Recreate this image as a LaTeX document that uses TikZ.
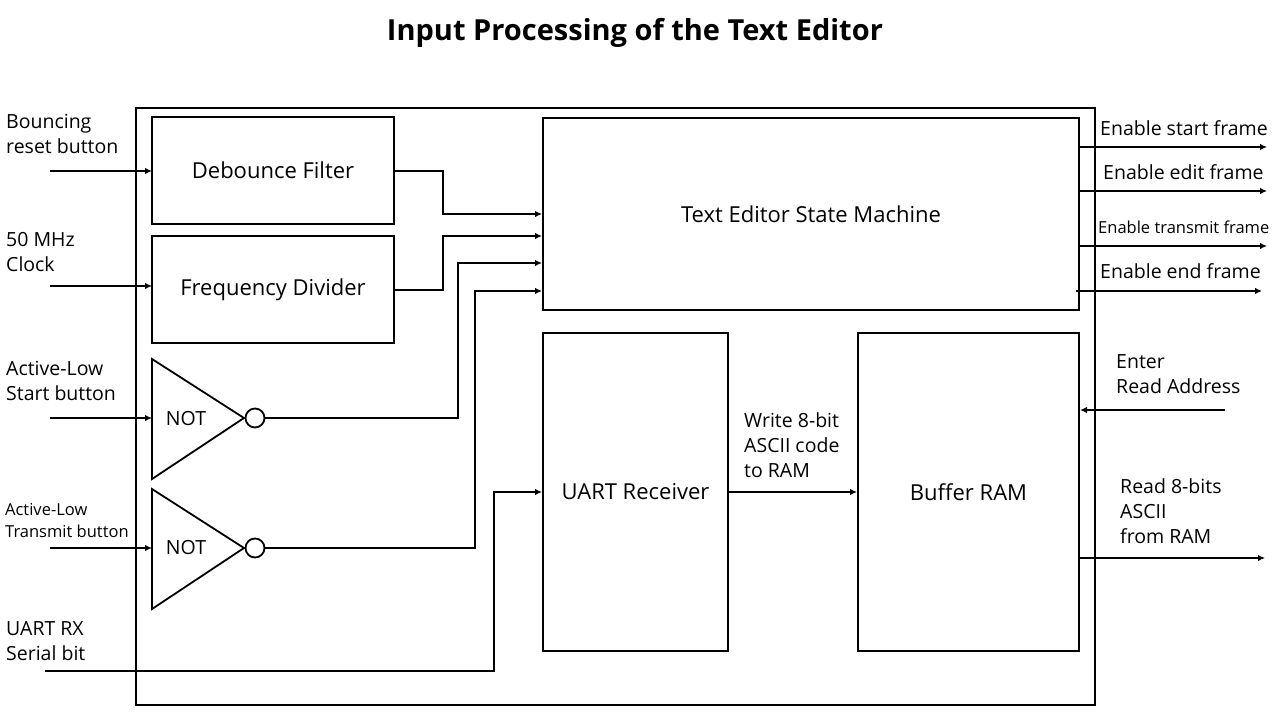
\documentclass[tikz,border=0pt]{standalone}
\usepackage{fontspec}
\setmainfont{Open Sans}
\usetikzlibrary{arrows.meta}
\begin{document}
\begin{tikzpicture}[x=1pt,y=-1pt,
 box/.style={draw,line width=2pt},
 wire/.style={line width=2.6pt},
 arr/.style={wire,-{Latex[length=7pt,width=6.5pt]}},
 lab/.style={font=\fontsize{19.5}{25}\selectfont,align=left,anchor=north west,inner sep=0pt},
 slab/.style={font=\fontsize{16.5}{22}\selectfont,align=left,anchor=north west,inner sep=0pt},
 btxt/.style={font=\fontsize{22}{26}\selectfont}]
\useasboundingbox (0,0) rectangle (1280,720);
\node[font=\bfseries\fontsize{29}{34}\selectfont] (title) at (635,33) {Input Processing of the Text Editor};
\draw[box] (136,108) rectangle (1095,705);
\node[box,minimum width=242pt,minimum height=107pt,btxt] (deb) at (273,170.5) {Debounce Filter};
\node[box,minimum width=242pt,minimum height=107pt,btxt] (fd) at (273,289.5) {Frequency Divider};
\node[box,minimum width=536pt,minimum height=192pt,btxt] (sm) at (811,214) {Text Editor State Machine};
\node[box,minimum width=185pt,minimum height=318pt,btxt] (uart) at (635.5,492) {UART Receiver};
\node[box,minimum width=221pt,minimum height=318pt,btxt] (ram) at (968.5,492) {Buffer RAM};
% NOT gates
\draw[line width=1.8pt] (152,359) -- (244,418) -- (152,479) -- cycle;
\node[font=\fontsize{19.5}{22}\selectfont] (n1) at (186,419) {NOT};
\node[draw,circle,line width=1.8pt,minimum size=19pt,inner sep=0pt] (c1) at (255,418) {};
\draw[line width=1.8pt] (152,489) -- (244,548) -- (152,609) -- cycle;
\node[font=\fontsize{19.5}{22}\selectfont] (n2) at (186,548) {NOT};
\node[draw,circle,line width=1.8pt,minimum size=19pt,inner sep=0pt] (c2) at (255,548) {};
% inputs
\node[lab] (i1) at (6,114) {Bouncing\\reset button};
\coordinate (a1) at (50,171); \draw[arr] (a1) -- (152,171);
\node[lab] (i2) at (6,232) {50 MHz\\Clock};
\coordinate (a2) at (50,286); \draw[arr] (a2) -- (152,286);
\node[lab] (i3) at (6,361) {Active-Low\\Start button};
\coordinate (a3) at (50,418); \draw[arr] (a3) -- (152,418);
\node[slab] (i4) at (5,503) {Active-Low\\Transmit button};
\coordinate (a4) at (50,548); \draw[arr] (a4) -- (152,548);
\node[lab] (i5) at (6,621) {UART RX\\Serial bit};
\coordinate (a5) at (45,671); \draw[arr] (a5) -- (494,671) -- (494,492) -- (uart.west|-0,492);
% internal
\draw[arr] (deb.east|-0,171) -- (443,171) -- (443,214) -- (sm.west|-0,214);
\draw[arr] (fd.east|-0,290) -- (443,290) -- (443,236) -- (sm.west|-0,236);
\draw[arr] (c1.east) -- (458,418) -- (458,263) -- (sm.west|-0,263);
\draw[arr] (c2.east) -- (475,548) -- (475,291) -- (sm.west|-0,291);
\draw[arr] (uart.east|-0,492) -- (ram.west|-0,492);
\node[lab] (w) at (744,412) {Write 8-bit\\ASCII code\\to RAM};
% outputs
\coordinate (o1) at (1267,147); \draw[arr] (sm.east|-0,147) -- (o1);
\node[lab] at (1100,120) {Enable start frame};
\coordinate (o2) at (1267,191); \draw[arr] (sm.east|-0,191) -- (o2);
\node[lab] at (1103,164) {Enable edit frame};
\coordinate (o3) at (1267,246); \draw[arr] (sm.east|-0,246) -- (o3);
\node[slab,font=\fontsize{16.5}{20}\selectfont] at (1098,221) {Enable transmit frame};
\coordinate (o4) at (1262,291); \draw[arr] (1076,291) -- (o4);
\node[lab] at (1100,263) {Enable end frame};
\node[lab] (ra) at (1116,354) {Enter\\Read Address};
\coordinate (e1) at (1225,410); \draw[arr] (e1) -- (ram.east|-0,410);
\node[lab] (rd) at (1120,478) {Read 8-bits\\ASCII\\from RAM};
\coordinate (o5) at (1265,558); \draw[arr] (ram.east|-0,558) -- (o5);
\end{tikzpicture}
\end{document}
